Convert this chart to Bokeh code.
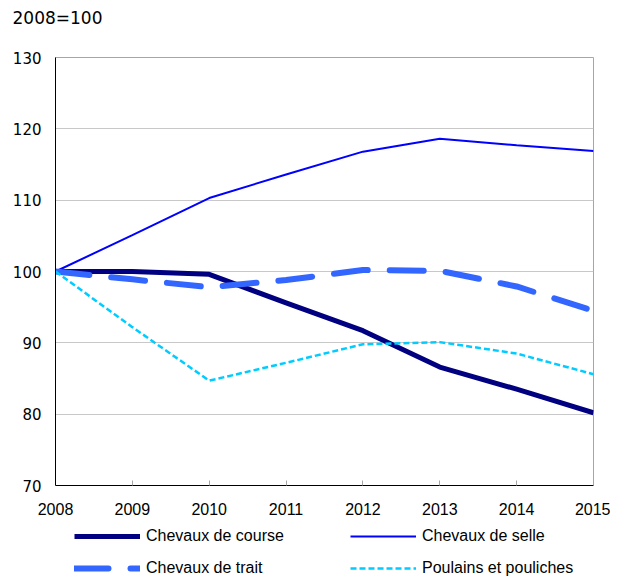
from bokeh.plotting import figure
from bokeh.models import Legend, LegendItem, FixedTicker, Range1d, Title
from bokeh.layouts import column
from bokeh.embed import file_html
from bokeh.resources import INLINE

years = [2008, 2009, 2010, 2011, 2012, 2013, 2014, 2015]
course = [100, 100.0, 99.6, 95.6, 91.7, 86.6, 83.5, 80.2]
selle = [100, 105.1, 110.3, 113.6, 116.8, 118.6, 117.7, 116.9]
trait = [100, 98.9, 97.8, 98.8, 100.2, 100.1, 97.9, 94.5]
poulains = [100, 92.2, 84.7, 87.2, 89.8, 90.1, 88.5, 85.6]
y_ticks = [70, 80, 90, 100, 110, 120, 130]
labels = ["Chevaux de course", "Chevaux de selle", "Chevaux de trait", "Poulains et pouliches"]

styles = [
    dict(line_color="#000080", line_width=5, line_join="round"),
    dict(line_color="#0000FF", line_width=2),
    dict(line_color="#3366FF", line_width=6, line_dash="34 22", line_cap="round", line_join="round"),
    dict(line_color="#00CCFF", line_width=2.5, line_dash="6 3"),
]
series = [course, selle, trait, poulains]

W = 610
p = figure(width=W, height=520, output_backend="svg", toolbar_location=None,
           x_range=Range1d(2008, 2015), y_range=Range1d(70, 130),
           min_border_left=55, min_border_right=W - 593, min_border_top=57,
           min_border_bottom=35)

# spacer between the frame and the unit title
spacer = Title(text=" ", standoff=27, text_font_size="1px")
p.add_layout(spacer, "above")
t = Title(text="2008=100", align="left", offset=-43, standoff=0,
          text_font="DejaVu Sans", text_font_size="17px", text_font_style="normal",
          text_color="#000000")
p.add_layout(t, "above")

p.outline_line_color = "#A6A6A6"
p.xgrid.grid_line_color = None
p.ygrid.grid_line_color = "#C8C8C8"
p.ygrid.ticker = FixedTicker(ticks=y_ticks)

p.yaxis.ticker = FixedTicker(ticks=y_ticks)
p.yaxis.axis_line_color = "#000000"
p.yaxis.major_tick_line_color = None
p.yaxis.major_tick_out = 0
p.yaxis.major_tick_in = 0
p.yaxis.minor_tick_line_color = None
p.yaxis.major_label_standoff = 14
p.yaxis.major_label_text_font = "DejaVu Sans"
p.yaxis.major_label_text_font_size = "15px"
p.yaxis.major_label_text_color = "#000000"

p.xaxis.ticker = FixedTicker(ticks=years)
p.xaxis.axis_line_color = "#000000"
p.xaxis.major_tick_in = 5
p.xaxis.major_tick_out = 0
p.xaxis.major_tick_line_color = "#A6A6A6"
p.xaxis.minor_tick_line_color = None
p.xaxis.major_label_standoff = 17
p.xaxis.major_label_text_font = "Liberation Sans"
p.xaxis.major_label_text_font_size = "16px"
p.xaxis.major_label_text_color = "#000000"

for ys, st in zip(series, styles):
    p.line(years, ys, **st)

# legend strip below the chart
p2 = figure(width=W, height=59, output_backend="svg", toolbar_location=None,
            x_range=Range1d(0, 1), y_range=Range1d(0, 1),
            min_border=0, min_border_left=55, min_border_right=W - 593,
            min_border_top=0, min_border_bottom=0)
p2.axis.visible = False
p2.grid.visible = False
p2.outline_line_color = None

nan = float("nan")
items = []
for lab, st in zip(labels, styles):
    r = p2.line([nan], [nan], **st)
    items.append(LegendItem(label=lab, renderers=[r]))

legend = Legend(items=items, ncols=2, location=(19, 2), padding=0, margin=0, spacing=14,
                glyph_width=66, glyph_height=16, label_height=16, label_width=190,
                label_standoff=6, label_text_font="Liberation Sans", label_text_font_size="16px",
                label_text_color="#000000", border_line_color=None, background_fill_alpha=0)
legend.orientation = "horizontal"
p2.add_layout(legend, "center")

layout = column(p, p2, spacing=0)
open("out.html", "w").write(file_html(layout, INLINE))
